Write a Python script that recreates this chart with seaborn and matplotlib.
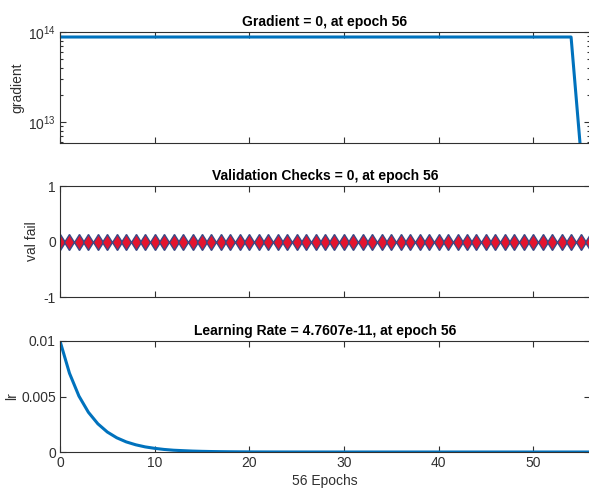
import numpy as np
import pandas as pd
import matplotlib
matplotlib.use("Agg")
import matplotlib.pyplot as plt
import seaborn as sns
from matplotlib.ticker import FixedLocator, LogLocator, NullFormatter

# --- Données ---
epochs = list(range(57))
gradient = [8.8e13] * 55 + [5.0e12, 0.0]
val_fail = [0] * 57
lr = [0.01, 0.0071, 0.00504, 0.00358, 0.00254, 0.0018, 0.00128, 0.00091, 0.00065, 0.00046,
      0.00033, 0.00023, 0.00016, 0.00012, 8.3e-5, 5.9e-5, 4.2e-5, 3.0e-5, 2.1e-5, 1.5e-5,
      1.1e-5, 7.5e-6, 5.3e-6, 3.8e-6, 2.7e-6, 1.9e-6, 1.4e-6, 9.6e-7, 6.8e-7, 4.8e-7,
      3.4e-7, 2.4e-7, 1.7e-7, 1.2e-7, 8.6e-8, 6.1e-8, 4.3e-8, 3.1e-8, 2.2e-8, 1.6e-8,
      1.1e-8, 7.8e-9, 5.5e-9, 3.9e-9, 2.8e-9, 2.0e-9, 1.4e-9, 1.0e-9, 7.1e-10, 5.0e-10,
      3.6e-10, 2.5e-10, 1.8e-10, 1.3e-10, 9.4e-11, 6.7e-11, 4.7607e-11]

titles = ["Gradient = 0, at epoch 56",
          "Validation Checks = 0, at epoch 56",
          "Learning Rate = 4.7607e-11, at epoch 56"]
ylabels = ["gradient", "val fail", "lr"]
xticks = [0, 10, 20, 30, 40, 50]

df = pd.DataFrame({"epoch": epochs, "gradient": gradient, "val_fail": val_fail, "lr": lr})

sns.set_style("ticks")
plt.rcParams["font.family"] = ["Liberation Sans", "DejaVu Sans"]
plt.rcParams["mathtext.default"] = "regular"
plt.rcParams["axes.unicode_minus"] = False

grey = "#303030"
blue = "#0072BD"
fs = 10

fig = plt.figure(figsize=(5.89, 4.90), dpi=100)
left, width, height = 60 / 589, 530 / 589, 111 / 490
bottoms = [1 - 143 / 490, 1 - 297 / 490, 1 - 452 / 490]
axes = [fig.add_axes([left, b, width, height]) for b in bottoms]

# --- Gradient ---
ax = axes[0]
sns.lineplot(data=df, x="epoch", y="gradient", ax=ax, color=blue, linewidth=2.2)
ax.set_yscale("log")
ax.set_ylim(5.9e12, 1e14)
ax.yaxis.set_major_locator(FixedLocator([1e13, 1e14]))
ax.yaxis.set_minor_locator(LogLocator(base=10, subs=np.arange(2, 10)))
ax.yaxis.set_minor_formatter(NullFormatter())

# --- Validation checks ---
ax = axes[1]
sns.lineplot(data=df, x="epoch", y="val_fail", ax=ax, color=blue, linewidth=2.0,
             marker="d", markersize=8.5, markerfacecolor="#e3142e",
             markeredgecolor="#3a4a86", markeredgewidth=1.0)
ax.set_ylim(-1, 1)
ax.set_yticks([-1, 0, 1])

# --- Learning rate ---
ax = axes[2]
sns.lineplot(data=df, x="epoch", y="lr", ax=ax, color=blue, linewidth=2.2)
ax.set_ylim(0, 0.01)
ax.set_yticks([0, 0.005, 0.01])
ax.set_yticklabels(["0", "0.005", "0.01"])
ax.set_xlabel("56 Epochs", fontsize=fs, color=grey, labelpad=3)

label_x = [-0.068, -0.040, -0.078]
for i, ax in enumerate(axes):
    ax.set_xlim(0, 56)
    ax.set_xticks(xticks)
    if i < 2:
        ax.set_xticklabels([])
        ax.set_xlabel("")
    ax.set_title(titles[i], fontsize=fs, fontweight="bold", color="black", pad=4)
    ax.set_ylabel(ylabels[i], fontsize=fs, color=grey)
    ax.yaxis.set_label_coords(label_x[i], 0.5)
    for s in ax.spines.values():
        s.set_visible(True)
        s.set_color(grey)
        s.set_linewidth(0.8)
    ax.tick_params(axis="both", which="both", direction="in", top=True, right=True,
                   colors=grey, labelsize=fs, width=0.8)
    ax.tick_params(which="major", length=4, pad=3)
    ax.tick_params(which="minor", length=2)

fig.savefig("out.png", dpi=100)
plt.close(fig)
